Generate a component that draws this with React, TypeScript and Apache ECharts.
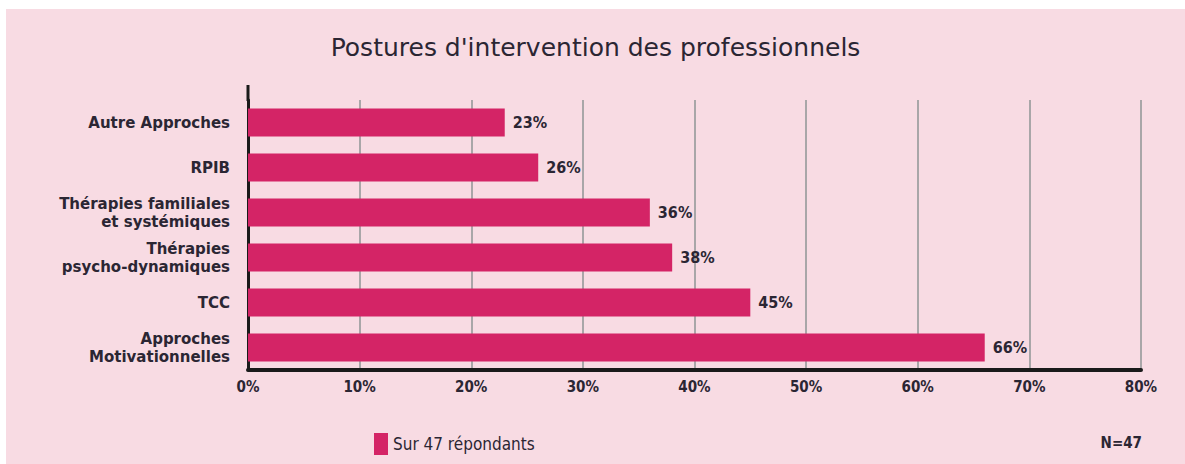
import React, { useEffect, useRef } from "react";
import * as echarts from "echarts";

const categories = [
  "Autre Approches",
  "RPIB",
  "Thérapies familiales\net systémiques",
  "Thérapies\npsycho-dynamiques",
  "TCC",
  "Approches\nMotivationnelles",
];
const values = [23, 26, 36, 38, 45, 66];
const seriesName = "Sur 47 répondants";
const titleText = "Postures d'intervention des professionnels";
const noteText = "N=47";

const COND = "'DejaVu Sans Condensed', 'Liberation Sans Narrow', sans-serif";
const WIDE = "'DejaVu Sans', sans-serif";
const TEXT = "#2b2633";

export default function App() {
  const ref = useRef<HTMLDivElement>(null);
  useEffect(() => {
    if (!ref.current) return;
    const chart = echarts.init(ref.current, null, { renderer: "svg" });
    chart.setOption({
      animation: false,
      backgroundColor: "#F8DBE3",
      textStyle: { fontFamily: COND },
      title: {
        text: titleText,
        left: "center",
        top: 21,
        textStyle: { fontFamily: WIDE, fontSize: 25, fontWeight: "normal", color: TEXT },
      },
      legend: {
        left: 363,
        top: 419,
        itemWidth: 14,
        itemHeight: 22,
        itemGap: 6,
        textStyle: { fontFamily: COND, fontSize: 17, color: TEXT },
        data: [{ name: seriesName, icon: "rect" }],
      },
      grid: { left: 242, right: 44, top: 91, bottom: 94 },
      xAxis: {
        type: "value",
        min: 0,
        max: 80,
        interval: 10,
        axisLine: { show: true, lineStyle: { color: "#1a1a1a", width: 4 } },
        axisTick: { show: false },
        axisLabel: {
          formatter: "{value}%",
          fontFamily: COND,
          fontSize: 15,
          fontWeight: "bold",
          color: TEXT,
          margin: 9,
        },
        splitLine: { show: true, lineStyle: { color: "#a9a6a8", width: 2 } },
      },
      yAxis: {
        type: "category",
        data: categories,
        inverse: true,
        axisLine: { show: true, lineStyle: { color: "#1a1a1a", width: 3 } },
        axisTick: { show: false },
        axisLabel: {
          fontFamily: WIDE,
          fontSize: 15,
          fontWeight: "bold",
          color: TEXT,
          margin: 18,
          lineHeight: 18,
          align: "right",
        },
      },
      graphic: [
        {
          type: "line",
          shape: { x1: 242, y1: 76, x2: 242, y2: 92 },
          style: { stroke: "#1a1a1a", lineWidth: 3 },
        },
        {
          type: "text",
          right: 43,
          top: 426,
          style: { text: noteText, font: `bold 15px ${COND}`, fill: TEXT },
        },
      ],
      series: [
        {
          name: seriesName,
          type: "bar",
          data: values,
          barWidth: 28,
          itemStyle: { color: "#D42466" },
          label: {
            show: true,
            position: "right",
            distance: 8,
            formatter: "{c}%",
            fontFamily: COND,
            fontSize: 16,
            fontWeight: "bold",
            color: TEXT,
          },
        },
      ],
    });
    return () => chart.dispose();
  }, []);
  return (
    <div style={{ position: "absolute", left: 6, top: 9, width: 1179, height: 455 }}>
      <div ref={ref} style={{ width: 1179, height: 455 }} />
    </div>
  );
}
